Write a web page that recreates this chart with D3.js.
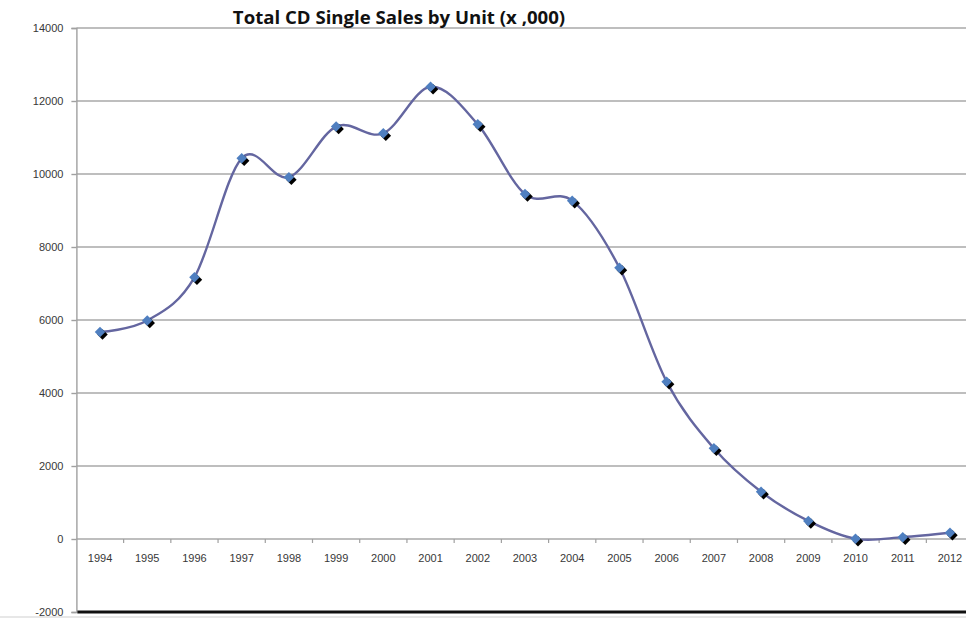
<!DOCTYPE html>
<html>
<head>
<meta charset="utf-8">
<script src="https://cdn.jsdelivr.net/npm/d3@7"></script>
<style>
  html, body { margin: 0; padding: 0; background: #fff; }
  svg { display: block; }
  .tick-label { font-family: "Liberation Sans", Arial, sans-serif; font-size: 11px; fill: #383838; }
  .title { font-family: "Open Sans", "Liberation Sans", sans-serif; font-weight: 700; font-size: 18.6px; fill: #111; }
</style>
</head>
<body>
<svg id="chart" width="966" height="619"></svg>
<script>
// Total CD single sales, thousands of units, per year
const years = ["1994","1995","1996","1997","1998","1999","2000","2001","2002","2003",
               "2004","2005","2006","2007","2008","2009","2010","2011","2012"];
const sales = [5670, 5985, 7170, 10430, 9910, 11300, 11115, 12390, 11360, 9450,
               9270, 7430, 4310, 2485, 1295, 495, 5, 50, 170];
const yTicks = [-2000, 0, 2000, 4000, 6000, 8000, 10000, 12000, 14000];
const titleText = "Total CD Single Sales by Unit (x ,000)";

const svg = d3.select("#chart");
const W = 966;
const plotLeft = 76.4, step = 47.22;
const plotTop = 28, plotBottom = 612;

const x = d3.scaleBand().domain(years).range([plotLeft, plotLeft + step * years.length]).paddingInner(0).paddingOuter(0);
const y = d3.scaleLinear().domain([-2000, 14000]).range([plotBottom, plotTop]);
const cx = d => x(d) + x.bandwidth() / 2;

// horizontal gridlines
const grid = svg.append("g");
yTicks.forEach(t => {
  if (t === -2000) return;
  grid.append("line")
    .attr("x1", plotLeft).attr("x2", W)
    .attr("y1", y(t)).attr("y2", y(t))
    .attr("stroke", "#a9a9a9").attr("stroke-width", 1.4);
});

// value axis (plain hyphen for negatives)
const yAxis = svg.append("g").attr("transform", `translate(${plotLeft},0)`)
  .call(d3.axisLeft(y).tickValues(yTicks).tickSize(5).tickPadding(8).tickFormat(d => String(d)));
yAxis.select(".domain").attr("stroke", "#a0a0a0").attr("stroke-width", 1.4);
yAxis.selectAll(".tick line").attr("stroke", "#a0a0a0").attr("stroke-width", 1.4);
yAxis.selectAll(".tick text").attr("class", "tick-label").attr("font-family", null).attr("font-size", null);

// category axis on the zero line, ticks between categories
const xAxisG = svg.append("g").attr("transform", `translate(0,${y(0)})`);
xAxisG.call(d3.axisBottom(x).tickSize(0).tickPadding(15));
xAxisG.select(".domain").remove();
xAxisG.selectAll(".tick text").attr("class", "tick-label").attr("font-family", null).attr("font-size", null);
years.forEach((d, i) => {
  if (i === 0) return;
  xAxisG.append("line")
    .attr("x1", x(d)).attr("x2", x(d)).attr("y1", 0).attr("y2", 4)
    .attr("stroke", "#a0a0a0").attr("stroke-width", 1.2);
});

// heavy baseline at the bottom of the plot
svg.append("line")
  .attr("x1", plotLeft + 1).attr("x2", W).attr("y1", y(-2000)).attr("y2", y(-2000))
  .attr("stroke", "#111").attr("stroke-width", 3);
svg.append("line")
  .attr("x1", 0).attr("x2", W).attr("y1", plotBottom + 5).attr("y2", plotBottom + 5)
  .attr("stroke", "#d0d0d0").attr("stroke-width", 1.2);

// smoothed series line
const line = d3.line()
  .x((d, i) => cx(years[i]))
  .y(d => y(d))
  .curve(d3.curveCardinal.tension(0));
svg.append("path")
  .datum(sales)
  .attr("d", line)
  .attr("fill", "none")
  .attr("stroke", "#6466a0")
  .attr("stroke-width", 2.4);

// diamond markers with a dark drop shadow
const square = d3.symbol().type(d3.symbolSquare).size(55)();
const marks = svg.append("g");
sales.forEach((v, i) => {
  marks.append("path")
    .attr("d", square)
    .attr("transform", `translate(${cx(years[i]) + 2.5},${y(v) + 2.5}) rotate(45)`)
    .attr("fill", "#000");
  marks.append("path")
    .attr("d", square)
    .attr("transform", `translate(${cx(years[i])},${y(v)}) rotate(45)`)
    .attr("fill", "#4f7fc0");
});

// title
svg.append("text")
  .attr("class", "title")
  .attr("x", 399).attr("y", 24)
  .attr("text-anchor", "middle")
  .text(titleText);
</script>
</body>
</html>
